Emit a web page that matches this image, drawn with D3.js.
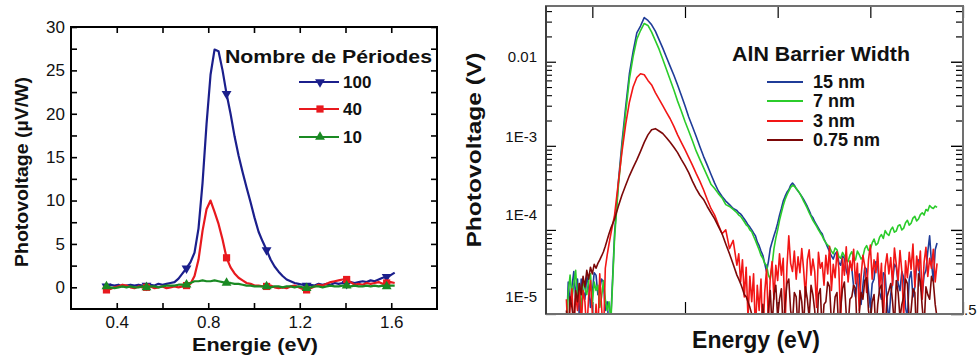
<!DOCTYPE html>
<html><head><meta charset="utf-8">
<script src="https://cdn.jsdelivr.net/npm/d3@7/dist/d3.min.js"></script>
<style>
html,body{margin:0;padding:0;background:#fff;}
svg{display:block;font-family:"Liberation Sans",Arial,Helvetica,sans-serif;}
</style></head><body>
<svg id="chart" width="980" height="361"></svg>
<script>
// ================= DATA: left panel (linear) =================
const energyLeft = [
0.355,0.3725,0.39,0.4075,0.425,0.4425,0.46,0.4775,0.495,0.5125,
0.53,0.5475,0.565,0.5825,0.6,0.6175,0.635,0.6525,0.67,0.6875,
0.705,0.7225,0.74,0.7575,0.775,0.7925,0.81,0.8275,0.845,0.8625,
0.88,0.8975,0.915,0.9325,0.95,0.9675,0.985,1.0025,1.02,1.0375,
1.055,1.0725,1.09,1.1075,1.125,1.1425,1.16,1.1775,1.195,1.2125,
1.23,1.2475,1.265,1.2825,1.3,1.3175,1.335,1.3525,1.37,1.3875,
1.405,1.4225,1.44,1.4575,1.475,1.4925,1.51,1.5275,1.545,1.5625,
1.58,1.5975,1.615];
const pv100 = [
0.1,0.3,0.2,0.3,0.1,0.2,0.3,0.2,0.3,0.2,
0.2,0.3,0.2,0.4,0.3,0.4,0.5,0.6,1.0,1.6,
2.2,2.9,4.0,6.8,12.0,18.8,24.5,27.4,27.2,25.0,
22.3,20.0,17.4,15.2,13.3,11.5,9.8,8.0,6.4,5.3,
4.3,3.2,2.4,1.8,1.3,0.9,0.7,0.5,0.4,0.3,
0.2,0.3,0.2,0.4,0.3,0.4,0.3,0.5,0.4,0.5,
0.4,0.6,0.5,0.6,0.7,0.6,0.8,0.7,0.9,1.1,
1.2,1.4,1.7];
const pv40 = [
-0.3,-0.2,0.0,0.1,0.3,0.2,0.0,-0.1,0.1,0.0,
0.0,0.1,-0.1,0.0,0.1,-0.1,0.0,0.1,0.0,0.1,
0.2,0.4,1.3,3.2,6.5,9.0,10.0,8.7,7.3,5.5,
3.4,2.3,1.6,1.1,0.8,0.5,0.4,0.2,0.2,0.1,
0.1,0.2,0.0,-0.1,0.0,-0.1,0.1,0.2,0.0,-0.2,
-0.3,-0.1,0.1,0.3,0.2,0.4,0.6,0.7,0.8,0.9,
0.9,0.6,0.3,0.4,0.3,0.5,0.4,0.5,0.6,0.4,
0.5,0.6,0.5];
const pv10 = [
0.1,0.0,-0.1,0.0,0.1,0.0,0.1,0.0,0.0,0.1,
0.0,0.1,0.1,0.0,0.1,0.2,0.2,0.2,0.3,0.3,
0.3,0.5,0.7,0.7,0.8,0.7,0.7,0.8,0.7,0.6,
0.5,0.5,0.4,0.4,0.3,0.2,0.2,0.1,0.1,0.1,
0.1,0.0,0.1,0.1,0.0,0.1,0.1,0.0,0.1,0.0,
-0.1,0.0,0.1,0.1,0.0,0.1,0.2,0.1,0.1,0.2,
0.2,0.1,0.2,0.1,0.1,0.2,0.1,0.2,0.1,0.2,
0.1,0.2,0.2];
const leftMarkerIdx = [0,10,20,30,40,50,60,70];
const leftSeriesNames = ["100","40","10"];
const leftLegendTitle = "Nombre de Périodes";
const leftXTicks = [0.4,0.6,0.8,1.0,1.2,1.4,1.6];
const leftXTickLabels = ["0.4","","0.8","","1.2","","1.6"];
const leftYTicks = [0,2.5,5,7.5,10,12.5,15,17.5,20,22.5,25,27.5,30];
const leftYTickLabels = ["0","","5","","10","","15","","20","","25","","30"];
const leftXTitle = "Energie (eV)";
const leftYTitle = "Photovoltage (µV/W)";

// ================= DATA: right panel (log) =================
const energyRight = [
0.36,0.37,0.38,0.39,0.40,0.41,0.42,0.43,0.44,0.45,
0.46,0.47,0.48,0.49,0.50,0.51,0.52,0.53,0.54,0.55,
0.56,0.57,0.58,0.59,0.60,
0.62,0.64,0.66,0.68,0.70,0.72,0.74,0.76,0.78,0.80,
0.82,0.84,0.86,0.88,0.90,0.92,0.94,0.96,0.98,1.00,
1.02,1.04,1.06,1.08,1.10,1.12,1.14,1.16,1.18,1.20,
1.22,1.24,1.26,1.28,
1.29,1.30,1.31,1.32,1.33,1.34,1.35,1.36,1.37,1.38,
1.39,1.40,1.41,1.42,1.43,1.44,1.45,1.46,1.47,1.48,
1.49,1.50,1.51,1.52,1.53,1.54,1.55,1.56,1.57,1.58,
1.59,1.60,1.61,1.62,1.63,1.64,1.65,1.66,1.67,1.68,
1.69,1.70,1.71,1.72,1.73,1.74,1.75,1.76,1.77,1.78,
1.79,1.80,1.81,1.82,1.83,1.84,1.85,1.86,1.87,1.88,
1.89,1.90,1.91,1.92,1.93,1.94,1.95,1.96,1.97,1.98,
1.99,2.00,2.01,2.02,2.03,2.04,2.05,2.06,2.07,2.08,
2.09,2.10,2.11,2.12,2.13,2.14,2.15,2.16,2.17,2.18,
2.19,2.20,2.21,2.22,2.23,2.24,2.25,2.26,2.27,2.28,
2.29,2.30,2.31,2.32,2.33,2.34,2.35,2.36];
const pv15nm = [
6e-6,2.4e-5,1.3e-5,2.1e-5,3.2e-5,1.6e-5,2.6e-5,9e-6,2.6e-5,1.9e-5,
1.5e-5,2.8e-5,2.2e-5,1.2e-5,1.8e-5,3.1e-5,2.9e-5,1.7e-5,2.0e-5,2.6e-5,
2.4e-5,1.1e-5,1.4e-5,7e-6,9e-6,
9e-5,3.6e-4,1.1e-3,2.9e-3,7.2e-3,1.32e-2,2.2e-2,2.66e-2,3.35e-2,3.1e-2,
2.75e-2,2.31e-2,1.83e-2,1.45e-2,1.13e-2,8.8e-3,6.9e-3,5.3e-3,4.0e-3,3.0e-3,
2.2e-3,1.7e-3,1.3e-3,9.8e-4,7.5e-4,5.9e-4,4.6e-4,3.6e-4,2.9e-4,2.5e-4,
2.2e-4,2.0e-4,1.8e-4,1.7e-4,
1.6e-4,1.55e-4,1.45e-4,1.35e-4,1.25e-4,1.15e-4,1.08e-4,1.0e-4,9.2e-5,8.5e-5,
7.2e-5,6.5e-5,5.6e-5,5e-5,4.0e-5,3.2e-5,4.2e-5,6e-5,7.2e-5,8.5e-5,
1.0e-4,1.2e-4,1.5e-4,1.8e-4,2.2e-4,2.5e-4,2.8e-4,3.0e-4,3.4e-4,3.6e-4,
3.4e-4,3.1e-4,2.9e-4,2.7e-4,2.5e-4,2.3e-4,2.1e-4,1.9e-4,1.7e-4,1.5e-4,
1.4e-4,1.25e-4,1.15e-4,1.05e-4,9.6e-5,9e-5,7.8e-5,7e-5,6.2e-5,5.5e-5,
4.9e-5,4.5e-5,5.2e-5,5.5e-5,4.1e-5,3.8e-5,4.9e-5,4.6e-5,3.3e-5,2.8e-5,
4.0e-5,3.5e-5,2.1e-5,1.6e-5,2.7e-5,3.0e-5,1.3e-5,2.2e-5,3.6e-5,3.4e-5,
1.9e-5,1.2e-5,2.3e-5,2.6e-5,4.2e-5,3.8e-5,1.8e-5,1.5e-5,3.1e-5,2.9e-5,
1.4e-5,8e-6,1.7e-5,2.4e-5,3.9e-5,3.6e-5,2.3e-5,1.9e-5,3.2e-5,2.7e-5,
1.2e-5,9e-6,2.6e-5,3.2e-5,1.6e-5,2.1e-5,3.8e-5,4.4e-5,2.2e-5,1.7e-5,
2.9e-5,3.3e-5,5.5e-5,8.5e-5,4.0e-5,2.5e-5,5.8e-5,7e-5];
const pv7nm = [
7e-6,1.8e-5,2.9e-5,1.5e-5,2.3e-5,3.3e-5,1.4e-5,2.1e-5,1.1e-5,2.6e-5,
2.0e-5,1.7e-5,2.5e-5,3.0e-5,1.3e-5,2.4e-5,1.9e-5,2.2e-5,1.2e-5,1.6e-5,
2.5e-5,1.5e-5,1.1e-5,1.4e-5,8e-6,
8e-5,3.2e-4,9.5e-4,2.5e-3,6.2e-3,1.15e-2,1.85e-2,2.35e-2,2.85e-2,2.7e-2,
2.25e-2,1.78e-2,1.41e-2,1.07e-2,8.1e-3,6.1e-3,4.6e-3,3.4e-3,2.6e-3,1.95e-3,
1.5e-3,1.15e-3,8.7e-4,6.9e-4,5.5e-4,4.4e-4,3.5e-4,3.1e-4,2.7e-4,2.4e-4,
2.0e-4,1.9e-4,1.75e-4,1.6e-4,
1.5e-4,1.45e-4,1.35e-4,1.25e-4,1.15e-4,1.1e-4,1.0e-4,9.5e-5,8.4e-5,7.5e-5,
6.6e-5,5.8e-5,5.0e-5,4.6e-5,4.0e-5,3.8e-5,2.9e-5,2.6e-5,3.8e-5,6e-5,
8e-5,1.0e-4,1.3e-4,1.6e-4,1.95e-4,2.3e-4,2.6e-4,2.9e-4,3.2e-4,3.4e-4,
3.3e-4,3.1e-4,2.9e-4,2.7e-4,2.45e-4,2.2e-4,2.0e-4,1.8e-4,1.6e-4,1.45e-4,
1.3e-4,1.2e-4,1.1e-4,1.0e-4,9.2e-5,8.5e-5,7.6e-5,7e-5,6.6e-5,6.2e-5,
5.6e-5,5.2e-5,6.1e-5,5.8e-5,4.8e-5,4.6e-5,5.4e-5,4.9e-5,4.4e-5,4.2e-5,
5.0e-5,5.5e-5,4.7e-5,4.4e-5,5.6e-5,5.1e-5,4.5e-5,4.8e-5,6.0e-5,6.5e-5,
5.7e-5,5.9e-5,7.0e-5,7.8e-5,6.6e-5,6.9e-5,8.2e-5,8.8e-5,7.9e-5,9.8e-5,
9.0e-5,8.6e-5,1.0e-4,1.08e-4,9.4e-5,9.7e-5,1.12e-4,1.15e-4,1.0e-4,1.05e-4,
1.22e-4,1.3e-4,1.14e-4,1.2e-4,1.38e-4,1.45e-4,1.28e-4,1.35e-4,1.52e-4,1.6e-4,
1.5e-4,1.75e-4,1.68e-4,1.95e-4,1.85e-4,1.8e-4,1.92e-4,1.85e-4];
const pv3nm = [
1.5e-5,5e-6,1.2e-5,2.0e-5,6e-6,1.7e-5,1.1e-5,2.3e-5,7e-6,1.9e-5,
1.4e-5,6e-6,1.6e-5,2.5e-5,1.0e-5,5e-6,1.3e-5,6e-6,3.0e-5,1.2e-5,
5e-6,3.5e-5,5.0e-5,6.8e-5,9e-5,
1.5e-4,3.6e-4,8.5e-4,1.8e-3,3.3e-3,5.0e-3,6.5e-3,7.2e-3,7.0e-3,6.0e-3,
5.3e-3,4.3e-3,3.6e-3,3.0e-3,2.5e-3,2.1e-3,1.7e-3,1.35e-3,1.1e-3,9e-4,
7.3e-4,5.9e-4,4.7e-4,3.8e-4,3.0e-4,2.3e-4,1.8e-4,1.5e-4,1.15e-4,9e-5,
1.0e-4,6e-5,7.5e-5,3.8e-5,
5.2e-5,2.4e-5,4.4e-5,1.6e-5,3.6e-5,9e-6,2.8e-5,1.4e-5,3.0e-5,6e-6,
2.2e-5,1.1e-5,2.6e-5,5e-6,1.8e-5,3.4e-5,8e-6,2.7e-5,4.2e-5,1.5e-5,
3.8e-5,2.5e-5,5.2e-5,2.9e-5,4.6e-5,7e-6,3.6e-5,8.5e-5,4.0e-5,3.2e-5,
5.6e-5,2.6e-5,4.8e-5,3.1e-5,6.0e-5,3.4e-5,1.6e-5,4.4e-5,5.8e-5,2.9e-5,
4.5e-5,3.2e-5,1.2e-5,5.4e-5,3.5e-5,4.1e-5,2.2e-5,5.0e-5,3.0e-5,6.4e-5,
1.9e-5,3.9e-5,2.7e-5,5.5e-5,3.5e-5,8e-6,4.6e-5,2.9e-5,6.3e-5,2.4e-5,
4.3e-5,3.3e-5,5.9e-5,2.3e-5,4.0e-5,1.1e-5,2.8e-5,5.0e-5,3.7e-5,1.8e-5,
4.4e-5,6.6e-5,2.6e-5,4.4e-5,3.1e-5,5.3e-5,2.0e-5,4.0e-5,7e-6,3.6e-5,
5.2e-5,3.0e-5,4.7e-5,2.2e-5,6.1e-5,3.9e-5,2.5e-5,5.7e-5,3.2e-5,9e-6,
4.3e-5,2.7e-5,5.4e-5,3.4e-5,6.8e-5,2.1e-5,4.9e-5,3.3e-5,5.6e-5,1.5e-5,
4.1e-5,6.2e-5,2.8e-5,4.6e-5,3.5e-5,5.9e-5,2.4e-5,4.0e-5];
const pv075nm = [
1.1e-5,6e-6,1.6e-5,1.2e-5,8e-6,1.9e-5,1.4e-5,2.3e-5,1.7e-5,2.8e-5,
2.1e-5,3.3e-5,2.6e-5,3.6e-5,3.0e-5,3.9e-5,3.5e-5,4.0e-5,4.4e-5,4.9e-5,
5.5e-5,6.4e-5,7.6e-5,9e-5,1.05e-4,
1.35e-4,1.9e-4,2.6e-4,3.4e-4,4.4e-4,5.5e-4,6.8e-4,8.6e-4,1.1e-3,1.35e-3,
1.55e-3,1.6e-3,1.5e-3,1.4e-3,1.25e-3,1.1e-3,9.6e-4,8.3e-4,6.9e-4,5.8e-4,
4.8e-4,3.8e-4,3.1e-4,2.6e-4,2.3e-4,1.9e-4,1.6e-4,1.35e-4,1.1e-4,9e-5,
6.8e-5,5.2e-5,3.9e-5,2.9e-5,
2.6e-5,2.3e-5,2.0e-5,1.7e-5,1.6e-5,1.4e-5,1.2e-5,1.0e-5,8e-6,6e-6,
5e-6,8e-6,5e-6,1.3e-5,6e-6,5e-6,1.1e-5,1.9e-5,7e-6,1.7e-5,
2.2e-5,9e-6,1.5e-5,2.0e-5,6e-6,1.3e-5,2.3e-5,2.6e-5,1.1e-5,8e-6,
1.8e-5,1.6e-5,6e-6,1.9e-5,1.4e-5,7e-6,2.1e-5,1.5e-5,9e-6,2.2e-5,
1.7e-5,1.1e-5,5e-6,1.7e-5,2.0e-5,6e-6,1.3e-5,1.4e-5,2.4e-5,2.1e-5,
8e-6,9e-6,1.6e-5,1.8e-5,6e-6,1.2e-5,2.0e-5,2.4e-5,1.0e-5,7e-6,
1.5e-5,1.6e-5,2.2e-5,2.0e-5,5e-6,1.0e-5,1.8e-5,1.5e-5,2.5e-5,2.7e-5,
1.1e-5,8e-6,1.4e-5,1.7e-5,6e-6,1.3e-5,2.0e-5,2.2e-5,9e-6,6e-6,
1.6e-5,1.9e-5,2.3e-5,1.4e-5,7e-6,2.5e-5,1.8e-5,9e-6,1.3e-5,1.6e-5,
2.6e-5,2.3e-5,8e-6,1.1e-5,2.0e-5,1.8e-5,5e-6,3.0e-5,2.4e-5,1.2e-5,
7e-6,2.1e-5,1.7e-5,1.5e-5,2.8e-5,2.4e-5,1.3e-5,9e-6];
const rightSeriesNames = ["15 nm","7 nm","3 nm","0.75 nm"];
const rightLegendTitle = "AlN Barrier Width";
const rightXTicks = [0.5,1.0,1.5,2.0,2.5];
const rightYTicks = [1e-5,1e-4,1e-3,1e-2];
const rightYTickLabels = ["1E-5","1E-4","1E-3","0.01"];
const rightXTitle = "Energy (eV)";
const rightYTitle = "Photovoltage (V)";

// ================= DRAWING =================
const svg = d3.select("#chart");

function styleAxis(g, fontSize, lw){
  g.select(".domain").remove();
  g.selectAll(".tick line").attr("stroke","#000").attr("stroke-width",lw);
  g.selectAll(".tick text").attr("fill","#111").attr("font-size",fontSize)
    .attr("font-family","'Liberation Sans',Arial,sans-serif");
}

// ---------- LEFT ----------
const L = {left:71, right:437, top:27, bottom:309};
const xL = d3.scaleLinear().domain([0.2,1.8]).range([L.left,L.right]);
const yL = d3.scaleLinear().domain([-2.5,30]).range([L.bottom,L.top]);
const defs = svg.append("defs");
defs.append("clipPath").attr("id","clipL").append("rect")
  .attr("x",L.left).attr("y",L.top).attr("width",L.right-L.left).attr("height",L.bottom-L.top);

const gL = svg.append("g");
gL.append("g").attr("transform",`translate(0,${L.bottom})`)
  .call(d3.axisBottom(xL).tickValues(leftXTicks).tickSize(-6).tickPadding(7).tickFormat((d,i)=>leftXTickLabels[i]))
  .call(g=>styleAxis(g,17,1.6));
gL.append("g").attr("transform",`translate(0,${L.top})`)
  .call(d3.axisTop(xL).tickValues(leftXTicks).tickSize(-6).tickFormat(""))
  .call(g=>styleAxis(g,17,1.6));
gL.append("g").attr("transform",`translate(${L.left},0)`)
  .call(d3.axisLeft(yL).tickValues(leftYTicks).tickSize(-6).tickPadding(6).tickFormat((d,i)=>leftYTickLabels[i]))
  .call(g=>styleAxis(g,17,1.6));
gL.append("g").attr("transform",`translate(${L.right},0)`)
  .call(d3.axisRight(yL).tickValues(leftYTicks).tickSize(-6).tickFormat(""))
  .call(g=>styleAxis(g,17,1.6));

const leftSeries = [
  {name:leftSeriesNames[0], vals:pv100, color:"#1b1f8c", sym:d3.symbolTriangle, rot:180, size:42},
  {name:leftSeriesNames[1], vals:pv40,  color:"#e8191e", sym:d3.symbolSquare, rot:0, size:52},
  {name:leftSeriesNames[2], vals:pv10,  color:"#1a8a23", sym:d3.symbolTriangle, rot:0, size:42}
];
const lineL = d3.line().x((d,i)=>xL(energyLeft[i])).y(d=>yL(d));
const plotL = gL.append("g").attr("clip-path","url(#clipL)");
leftSeries.forEach(s=>{
  plotL.append("path").attr("d",lineL(s.vals)).attr("fill","none")
    .attr("stroke",s.color).attr("stroke-width",2.2).attr("stroke-linejoin","round");
  plotL.selectAll(null).data(leftMarkerIdx).enter().append("path")
    .attr("d",d3.symbol().type(s.sym).size(s.size)())
    .attr("transform",i=>`translate(${xL(energyLeft[i])},${yL(s.vals[i])}) rotate(${s.rot})`)
    .attr("fill",s.color);
});
gL.append("rect").attr("x",L.left).attr("y",L.top).attr("width",L.right-L.left).attr("height",L.bottom-L.top)
  .attr("fill","none").attr("stroke","#000").attr("stroke-width",2);

// legend left
gL.append("text").attr("x",225).attr("y",63).text(leftLegendTitle)
  .attr("font-weight","bold").attr("font-size",18).attr("textLength",207).attr("lengthAdjust","spacingAndGlyphs").attr("fill","#111");
const legLY = [82,109,137];
leftSeries.forEach((s,k)=>{
  const y = legLY[k];
  gL.append("line").attr("x1",299).attr("x2",339).attr("y1",y).attr("y2",y).attr("stroke",s.color).attr("stroke-width",2.2);
  gL.append("path").attr("d",d3.symbol().type(s.sym).size(s.size)()).attr("transform",`translate(320,${y}) rotate(${s.rot})`).attr("fill",s.color);
  gL.append("text").attr("x",343).attr("y",y+5.5).text(s.name).attr("font-weight","bold").attr("font-size",17).attr("fill","#111");
});
// titles left
gL.append("text").attr("x",255).attr("y",351).attr("text-anchor","middle").text(leftXTitle)
  .attr("font-weight","bold").attr("font-size",19).attr("textLength",126).attr("lengthAdjust","spacingAndGlyphs").attr("fill","#111");
gL.append("text").attr("transform","translate(28,172) rotate(-90)").attr("text-anchor","middle").text(leftYTitle)
  .attr("font-weight","bold").attr("font-size",19).attr("textLength",190).attr("lengthAdjust","spacingAndGlyphs").attr("fill","#111");

// ---------- RIGHT ----------
const R = {left:546, right:963, top:6, bottom:314};
const xR = d3.scaleLinear().domain([0.25,2.5]).range([R.left,R.right]);
const yR = d3.scaleLog().domain([1e-5,0.046]).range([R.bottom,R.top]);
defs.append("clipPath").attr("id","clipR").append("rect")
  .attr("x",R.left).attr("y",R.top).attr("width",R.right-R.left).attr("height",R.bottom-R.top);
const gR = svg.append("g");
const minorR = yR.ticks().filter(v=>Math.abs(Math.log10(v)-Math.round(Math.log10(v)))>1e-6);
const yLabelShift = [-17,-15,-9,-5];

gR.append("g").attr("transform",`translate(0,${R.bottom})`)
  .call(d3.axisBottom(xR).tickValues(rightXTicks).tickSize(-12).tickFormat(""))
  .call(g=>styleAxis(g,15,1.2));
gR.append("g").attr("transform",`translate(0,${R.top})`)
  .call(d3.axisTop(xR).tickValues(rightXTicks).tickSize(-12).tickFormat(""))
  .call(g=>styleAxis(g,15,1.2));
gR.append("g").attr("transform",`translate(${R.left},0)`)
  .call(d3.axisLeft(yR).tickValues(rightYTicks).tickSize(-10).tickPadding(9).tickFormat((d,i)=>rightYTickLabels[i]))
  .call(g=>styleAxis(g,15,1.2))
  .call(g=>g.selectAll(".tick text").attr("y",(d,i)=>yLabelShift[i]));
gR.append("g").attr("transform",`translate(${R.left},0)`)
  .call(d3.axisLeft(yR).tickValues(minorR).tickSize(-6).tickFormat(""))
  .call(g=>styleAxis(g,15,1.1));
gR.append("g").attr("transform",`translate(${R.right},0)`)
  .call(d3.axisRight(yR).tickValues(rightYTicks).tickSize(-12).tickFormat(""))
  .call(g=>styleAxis(g,15,1.4));
gR.append("g").attr("transform",`translate(${R.right},0)`)
  .call(d3.axisRight(yR).tickValues(minorR).tickSize(-7).tickFormat(""))
  .call(g=>styleAxis(g,15,1.2));

const rightSeries = [
  {name:rightSeriesNames[0], vals:pv15nm, color:"#1f3c98"},
  {name:rightSeriesNames[1], vals:pv7nm, color:"#2bcc2b"},
  {name:rightSeriesNames[2], vals:pv3nm, color:"#f21616"},
  {name:rightSeriesNames[3], vals:pv075nm, color:"#7c0808"}
];
const lineR = d3.line().x((d,i)=>xR(energyRight[i])).y(d=>yR(d));
const plotR = gR.append("g").attr("clip-path","url(#clipR)");
rightSeries.forEach(s=>{
  plotR.append("path").attr("d",lineR(s.vals)).attr("fill","none")
    .attr("stroke",s.color).attr("stroke-width",1.6).attr("stroke-linejoin","round");
});
gR.append("rect").attr("x",R.left).attr("y",R.top).attr("width",R.right-R.left).attr("height",R.bottom-R.top)
  .attr("fill","none").attr("stroke","#707070").attr("stroke-width",2);
gR.append("line").attr("x1",R.left).attr("x2",R.left).attr("y1",R.top).attr("y2",R.bottom).attr("stroke","#222").attr("stroke-width",1.3);

// legend right
gR.append("text").attr("x",732).attr("y",61).text(rightLegendTitle)
  .attr("font-weight","bold").attr("font-size",19.5).attr("textLength",178).attr("lengthAdjust","spacingAndGlyphs").attr("fill","#111");
const legRY = [82,101,121,140];
rightSeries.forEach((s,k)=>{
  const y = legRY[k];
  gR.append("line").attr("x1",767).attr("x2",803).attr("y1",y).attr("y2",y).attr("stroke",s.color).attr("stroke-width",2);
  gR.append("text").attr("x",813).attr("y",y+6).text(s.name).attr("font-weight","bold").attr("font-size",18).attr("fill","#111");
});
// titles right
gR.append("text").attr("x",756).attr("y",348).attr("text-anchor","middle").text(rightXTitle)
  .attr("font-weight","bold").attr("font-size",23).attr("fill","#111");
gR.append("text").attr("transform","translate(481,150) rotate(-90)").attr("text-anchor","middle").text(rightYTitle)
  .attr("font-weight","bold").attr("font-size",21).attr("textLength",195).attr("lengthAdjust","spacingAndGlyphs").attr("fill","#111");
// clipped corner label fragment
gR.append("text").attr("x",R.right+1).attr("y",R.bottom+1).text(".5").attr("font-size",15).attr("fill","#111");
</script>
</body></html>
